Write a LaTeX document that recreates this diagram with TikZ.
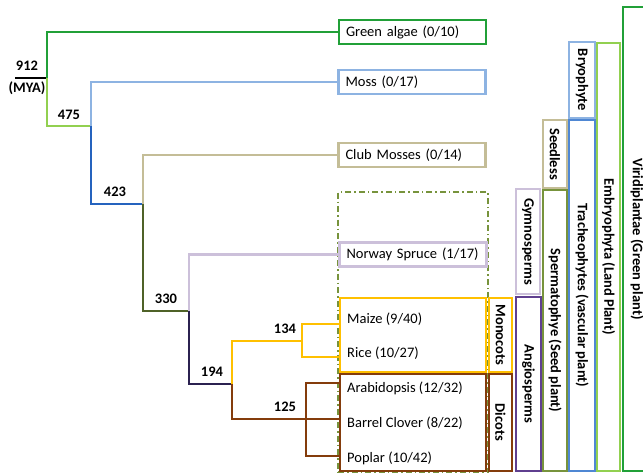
\documentclass[tikz,border=0pt]{standalone}
\usepackage{fontspec}
\setmainfont{Carlito}
\definecolor{cGreen}{HTML}{21A038}
\definecolor{cLgreen}{HTML}{92D050}
\definecolor{cLblue}{HTML}{8DB3E2}
\definecolor{cBlueT}{HTML}{2563BE}
\definecolor{cBlue}{HTML}{4F87D3}
\definecolor{cTan}{HTML}{C4BD97}
\definecolor{cOliveT}{HTML}{4F6228}
\definecolor{cOlive}{HTML}{77933C}
\definecolor{cLav}{HTML}{CCC0DA}
\definecolor{cNavyT}{HTML}{2B2150}
\definecolor{cPurple}{HTML}{5F3F8F}
\definecolor{cYellow}{HTML}{FFC000}
\definecolor{cBrown}{HTML}{843C0C}
\begin{document}
\begin{tikzpicture}[x=1pt,y=-1pt,
  tree/.style={line width=2.6pt},
  leaf/.style={draw, line width=2.4pt, inner xsep=7pt, inner ysep=0pt, text width=133pt, align=left, minimum height=24pt, font=\fontsize{14.5}{16}\selectfont},
  grp/.style={draw, line width=2.4pt, inner sep=0pt},
  ltext/.style={anchor=west, inner sep=0pt, font=\fontsize{14.5}{16}\selectfont},
  side/.style={draw, line width=2.4pt, rotate=-90, inner sep=0pt, font=\bfseries\fontsize{14.5}{16}\selectfont},
  age/.style={inner sep=0pt, font=\bfseries\fontsize{14.5}{16}\selectfont}]
\clip (0,0) rectangle (643,475);
\fill[white] (0,0) rectangle (643,475);
% dashed gymnosperm region
\node[grp, draw=cOlive, line width=2pt, dash pattern=on 6pt off 3pt on 1.5pt off 3pt, minimum width=150pt, minimum height=280pt] (dashbox) at (413,332) {};
% leaf boxes
\node[leaf, draw=cGreen] (ga) at (412.5,32) {Green algae (0/10)};
\node[leaf, draw=cLblue] (moss) at (412,82) {Moss (0/17)};
\node[leaf, draw=cTan] (club) at (412,155) {Club Mosses (0/14)};
\node[leaf, draw=cLav, fill=white] (spruce) at (413,254.5) {Norway Spruce (1/17)};
\node[grp, draw=cYellow, fill=white, minimum width=146pt, minimum height=74pt] (monobox) at (413,335) {};
\node[grp, draw=cBrown, fill=white, minimum width=146pt, minimum height=97pt] (dicobox) at (413,422.5) {};
\node[ltext] (maize) at (347,319) {Maize (9/40)};
\node[ltext] (rice) at (347,353) {Rice (10/27)};
\node[ltext] (arab) at (347,388) {Arabidopsis (12/32)};
\node[ltext] (clover) at (347,423) {Barrel Clover (8/22)};
\node[ltext] (poplar) at (347,458) {Poplar (10/42)};
% side group boxes
\node[side, draw=cYellow, minimum width=74pt, minimum height=23pt] (monoc) at (500.5,335) {Monocots};
\node[side, draw=cBrown, minimum width=97pt, minimum height=23pt] (dicot) at (500.5,422.5) {Dicots};
\node[side, draw=cLav, minimum width=105pt, minimum height=24pt] (gymno) at (528,241.5) {Gymnosperms};
\node[side, draw=cPurple, minimum width=174pt, minimum height=25pt] (angio) at (528.5,384) {Angiosperms};
\node[side, draw=cTan, minimum width=68pt, minimum height=24pt] (seedless) at (555,154) {Seedless};
\node[side, draw=cOlive, minimum width=281pt, minimum height=24pt] (sperm) at (555,330.5) {Spermatophye (Seed plant)};
\node[side, draw=cLblue, minimum width=76pt, minimum height=26pt] (bryo) at (582,80) {Bryophyte};
\node[side, draw=cBlue, minimum width=351pt, minimum height=26pt] (trach) at (582,295.5) {Tracheophytes (vascular plant)};
\node[side, draw=cLgreen, minimum width=428pt, minimum height=23pt] (embryo) at (608.5,257) {Embryophyta (Land Plant)};
\node[side, draw=cGreen, minimum width=464pt, minimum height=28pt] (viri) at (637,239) {Viridiplantae (Green plant)};
% tree coordinates
\coordinate (rootl) at (15,78);
\coordinate (root) at (47,78);
\coordinate (n475) at (91,126);
\coordinate (n423) at (143,204);
\coordinate (n330) at (189,311);
\coordinate (n194) at (232,384);
\coordinate (n134) at (302,341);
\coordinate (n125) at (306,419);
\coordinate (m1) at (340,324);
\coordinate (m2) at (340,357);
\coordinate (d1) at (340,383);
\coordinate (d2) at (340,419);
\coordinate (d3) at (340,456);
% tree
\draw[tree, black] (rootl) -- (root);
\draw[tree, cGreen] (root) |- (ga.west);
\draw[tree, cLgreen] (root) |- (n475);
\draw[tree, cLblue] (n475) |- (moss.west);
\draw[tree, cBlueT] (n475) |- (n423);
\draw[tree, cTan] (n423) |- (club.west);
\draw[tree, cOliveT] (n423) |- (n330);
\draw[tree, cLav] (n330) |- (spruce.west);
\draw[tree, cNavyT] (n330) |- (n194);
\draw[tree, cYellow] (n194) |- (n134);
\draw[tree, cYellow] (n134) |- (m1);
\draw[tree, cYellow] (n134) |- (m2);
\draw[tree, cBrown] (n194) |- (n125);
\draw[tree, cBrown] (n125) |- (d1);
\draw[tree, cBrown] (n125) -- (d2);
\draw[tree, cBrown] (n125) |- (d3);
% ages
\node[age] (a912) at (27,66) {912};
\node[age] (mya) at (27,88) {(MYA)};
\node[age] (a475) at (69,115) {475};
\node[age] (a423) at (115,192) {423};
\node[age] (a330) at (166,299) {330};
\node[age] (a194) at (212,372) {194};
\node[age] (a134) at (285,329) {134};
\node[age] (a125) at (285,407) {125};
\end{tikzpicture}
\end{document}
